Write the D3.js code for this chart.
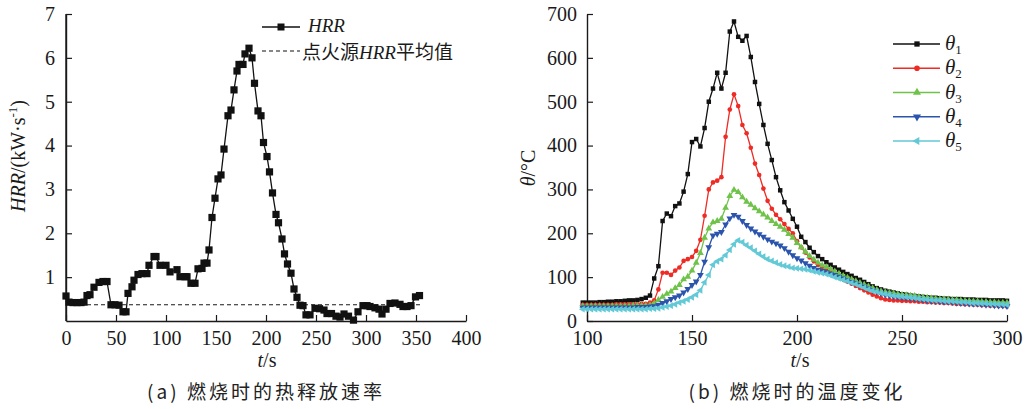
<!DOCTYPE html>
<html>
<head>
<meta charset="utf-8">
<script src="https://cdn.jsdelivr.net/npm/d3@7"></script>
<style>
  body { margin: 0; background: #fff; }
</style>
</head>
<body>
<div id="chart"></div>
<script>
// (a) heat release rate
const hrrT = [0, 3, 7, 11, 15, 18, 21, 24, 28, 33, 37, 41, 45, 49, 53, 57, 60, 62, 66, 68, 72, 76, 81, 83, 88, 90, 94, 100, 104, 111,
  114, 119, 121, 125, 129, 132, 136, 138, 141, 143, 146, 149, 152, 155, 158, 162, 165, 168, 171, 173, 177, 179, 183, 186, 188.5, 192, 195, 197.5, 201, 203.5,
  206.5, 210, 212.5, 216, 218.5, 221.5, 225, 228, 231, 234, 237, 240, 244, 249, 253.5, 258, 261, 265.5, 270, 274,
  278, 282.5, 287.5, 292, 297, 301, 304, 309, 313, 316, 320, 324, 329, 334, 337, 341, 345, 349.5, 353.5];
const hrrV = [0.57, 0.43, 0.42, 0.42, 0.42, 0.43, 0.58, 0.6, 0.77, 0.88, 0.9, 0.9, 0.37, 0.37, 0.36, 0.21, 0.21, 0.63, 0.78, 0.93, 1.06, 1.08, 1.08, 1.27, 1.47, 1.47, 1.27, 1.27, 1.12, 1.17,
  1.01, 1.01, 1.01, 0.86, 0.86, 1.19, 1.2, 1.32, 1.32, 1.62, 2.36, 2.8, 3.24, 3.33, 3.92, 4.68, 4.81, 5.27, 5.7, 5.85, 5.85, 6.09, 6.22, 6.0, 5.42, 4.79, 4.68, 4.07, 3.75, 3.4,
  2.92, 2.43, 2.24, 1.87, 1.53, 1.3, 1.09, 0.73, 0.54, 0.36, 0.35, 0.14, 0.14, 0.29, 0.28, 0.25, 0.17, 0.17, 0.11, 0.09,
  0.16, 0.11, 0.02, 0.21, 0.35, 0.35, 0.33, 0.3, 0.27, 0.16, 0.27, 0.4, 0.41, 0.38, 0.33, 0.33, 0.35, 0.55, 0.58];
const hrrMean = 0.37;
const hrrMeanSpan = [0, 355];

// (b) temperatures, sampled every 2 s from 98 s to 300 s
const tTemp = d3.range(98, 301, 2);
const theta1 = [42, 42, 42, 42, 43, 43, 44, 44, 45, 45,
  46, 47, 47, 48, 50, 53, 58, 97, 125, 228,
  245, 239, 262, 268, 295, 335, 408, 415, 398, 440,
  500, 530, 566, 530, 566, 660, 683, 648, 639, 650,
  602, 545, 495, 447, 404, 367, 328, 298, 271, 252,
  233, 215, 192, 180, 167, 157, 148, 141, 134, 128,
  122, 117, 112, 107, 103, 98, 94, 89, 84, 79,
  75, 72, 69, 67, 65, 63, 61, 60, 58, 57,
  56, 55, 54, 53, 53, 52, 51, 51, 50, 50,
  50, 49, 49, 49, 48, 48, 48, 47, 47, 47,
  47, 46];
const theta2 = [37, 37, 37, 37, 37, 37, 37, 37, 38, 38,
  38, 38, 38, 38, 39, 39, 42, 47, 72, 110,
  110, 105, 115, 122, 137, 141, 146, 160, 185, 240,
  300, 316, 320, 328, 420, 482, 517, 490, 447, 428,
  395, 359, 333, 302, 274, 256, 242, 232, 221, 210,
  200, 182, 168, 156, 145, 136, 128, 121, 115, 110,
  105, 100, 95, 90, 85, 80, 75, 70, 65, 60,
  56, 52, 49, 48, 47, 47, 46, 46, 45, 45,
  44, 44, 43, 43, 42, 42, 41, 41, 40, 39,
  39, 38, 38, 37, 37, 36, 36, 35, 35, 34,
  34, 33];
const theta3 = [34, 34, 34, 34, 34, 34, 34, 34, 34, 34,
  34, 34, 35, 35, 35, 35, 36, 40, 48, 55,
  62, 67, 75, 82, 95, 101, 115, 133, 155, 190,
  211, 225, 228, 233, 258, 285, 299, 294, 282, 272,
  265, 257, 250, 243, 236, 228, 221, 215, 208, 198,
  190, 178, 168, 158, 148, 140, 133, 127, 123, 118,
  113, 108, 103, 99, 95, 91, 87, 83, 79, 75,
  71, 68, 66, 64, 63, 61, 60, 59, 58, 57,
  55, 54, 53, 52, 51, 50, 50, 49, 48, 48,
  47, 46, 46, 45, 45, 44, 44, 43, 43, 42,
  42, 42];
const theta4 = [31, 31, 31, 31, 31, 31, 31, 31, 31, 31,
  31, 31, 31, 32, 32, 32, 33, 34, 37, 41,
  45, 50, 54, 58, 65, 73, 82, 90, 105, 135,
  168, 195, 199, 203, 220, 234, 242, 238, 228, 219,
  211, 204, 198, 192, 186, 181, 177, 172, 166, 158,
  150, 143, 138, 132, 126, 121, 117, 114, 111, 108,
  105, 101, 97, 93, 89, 86, 82, 78, 74, 70,
  67, 63, 60, 58, 56, 55, 54, 53, 52, 51,
  50, 48, 47, 46, 46, 45, 44, 44, 43, 42,
  41, 41, 40, 39, 39, 38, 37, 37, 36, 35,
  35, 34];
const theta5 = [27, 27, 27, 27, 27, 27, 27, 27, 27, 27,
  27, 27, 27, 27, 27, 27, 28, 28, 29, 31,
  33, 35, 38, 42, 45, 49, 54, 60, 70, 88,
  105, 128, 136, 141, 150, 162, 175, 184, 180, 173,
  167, 160, 153, 147, 141, 137, 133, 129, 126, 124,
  121, 120, 119, 118, 116, 113, 111, 109, 107, 104,
  100, 97, 94, 91, 87, 84, 80, 76, 72, 69,
  67, 64, 62, 60, 58, 57, 56, 55, 54, 53,
  51, 50, 49, 48, 47, 47, 46, 45, 45, 44,
  43, 43, 42, 41, 41, 40, 40, 39, 39, 38,
  38, 37];

const seriesNames = ["1", "2", "3", "4", "5"];
const seriesColors = ["#111111", "#ee2b24", "#6fc24a", "#2b54ac", "#62c9d6"];
const seriesValues = [theta1, theta2, theta3, theta4, theta5];

const hrrTicksX = [0, 50, 100, 150, 200, 250, 300, 350, 400];
const hrrTicksY = [1, 2, 3, 4, 5, 6, 7];
const tempTicksX = [100, 150, 200, 250, 300];
const tempTicksY = [0, 100, 200, 300, 400, 500, 600, 700];

const SERIF = "Liberation Serif";
const CJK = "Noto Sans CJK SC";
const ink = "#1a1a1a";
const width = 1028, height = 409;
const svg = d3.select("#chart").append("svg")
  .attr("width", width).attr("height", height)
  .attr("font-family", SERIF).attr("fill", ink);

function styleAxis(g) {
  g.attr("font-family", SERIF).attr("font-size", 20);
  g.select(".domain").attr("stroke", ink).attr("stroke-width", 1.4);
  g.selectAll(".tick line").attr("stroke", ink).attr("stroke-width", 1.2);
  g.selectAll(".tick text").attr("fill", ink).attr("font-family", SERIF);
}

// text helper (mixes italic / normal / CJK parts)
function label(parent, x, y, size, parts) {
  const t = parent.append("text").attr("x", x).attr("y", y)
    .attr("font-family", SERIF).attr("font-size", size).attr("fill", ink);
  parts.forEach(p => {
    const s = t.append("tspan").text(p.s);
    if (p.i) s.attr("font-style", "italic");
    if (p.cn) s.attr("font-family", CJK);
    if (p.dy) s.attr("dy", p.dy);
    if (p.fs) s.attr("font-size", p.fs);
  });
  return t;
}

// ---------- panel (a)
const xa = d3.scaleLinear().domain([0, 400]).range([66, 466]);
const ya = d3.scaleLinear().domain([0, 7]).range([321, 14]);
const fmt = d3.format("d");

svg.append("g").attr("transform", "translate(0,321)")
  .call(d3.axisBottom(xa).tickValues(hrrTicksX).tickFormat(fmt).tickSizeInner(-6).tickSizeOuter(0).tickPadding(10))
  .call(styleAxis);
svg.append("g").attr("transform", "translate(66,0)")
  .call(d3.axisLeft(ya).tickValues(hrrTicksY).tickFormat(fmt).tickSizeInner(-6).tickSizeOuter(0).tickPadding(11))
  .call(styleAxis);
svg.append("line")
  .attr("x1", 66).attr("x2", 66).attr("y1", ya(0)).attr("y2", ya(7))
  .attr("stroke", ink).attr("stroke-width", 1.4);

// mean line
svg.append("line")
  .attr("x1", xa(hrrMeanSpan[0])).attr("x2", xa(hrrMeanSpan[1]))
  .attr("y1", ya(hrrMean)).attr("y2", ya(hrrMean))
  .attr("stroke", ink).attr("stroke-width", 1.1).attr("stroke-dasharray", "4,3");

const hrrData = hrrT.map((t, i) => ({ t: t, v: hrrV[i] }));
svg.append("path").datum(hrrData)
  .attr("fill", "none").attr("stroke", "#111").attr("stroke-width", 1.3)
  .attr("d", d3.line().x(d => xa(d.t)).y(d => ya(d.v)));
svg.append("g").selectAll("rect").data(hrrData).join("rect")
  .attr("x", d => xa(d.t) - 3.6).attr("y", d => ya(d.v) - 3.6)
  .attr("width", 7.2).attr("height", 7.2).attr("fill", "#111");

// legend (a)
const lgA = svg.append("g");
lgA.append("line").attr("x1", 262).attr("x2", 300).attr("y1", 27).attr("y2", 27)
  .attr("stroke", "#111").attr("stroke-width", 1.3);
lgA.append("rect").attr("x", 277.5).attr("y", 23.5).attr("width", 7).attr("height", 7).attr("fill", "#111");
label(lgA, 308, 32, 19, [{ s: "HRR", i: true }]);
lgA.append("line").attr("x1", 262).attr("x2", 300).attr("y1", 51).attr("y2", 51)
  .attr("stroke", "#111").attr("stroke-width", 1.1).attr("stroke-dasharray", "4,3");
label(lgA, 302, 59, 19, [{ s: "点火源", cn: true }, { s: "HRR", i: true }, { s: "平均值", cn: true }]);

// axis titles (a)
label(svg, 0, 0, 20, [{ s: "HRR", i: true }, { s: "/(kW·s" }, { s: "-1", dy: -8, fs: 13 }, { s: ")", dy: 8 }])
  .attr("text-anchor", "middle").attr("transform", "translate(25,156) rotate(-90)");
label(svg, 267, 367, 20, [{ s: "t", i: true }, { s: "/s" }]).attr("text-anchor", "middle");

label(svg, 266, 399, 19, [{ s: "(a) 燃烧时的热释放速率", cn: true }])
  .attr("text-anchor", "middle").attr("letter-spacing", 3).attr("fill", "#222");

// ---------- panel (b)
const xb = d3.scaleLinear().domain([100, 300]).range([587, 1007]);
const yb = d3.scaleLinear().domain([0, 700]).range([321, 14]);

svg.append("g").attr("transform", "translate(0,321)")
  .call(d3.axisBottom(xb).tickValues(tempTicksX).tickFormat(fmt).tickSizeInner(-6).tickSizeOuter(0).tickPadding(10))
  .call(styleAxis);
svg.append("g").attr("transform", "translate(587,0)")
  .call(d3.axisLeft(yb).tickValues(tempTicksY).tickFormat(fmt).tickSizeInner(-6).tickSizeOuter(0).tickPadding(10))
  .call(styleAxis);

const symTypes = [d3.symbolSquare, d3.symbolCircle, d3.symbolTriangle, d3.symbolTriangle, d3.symbolTriangle];
const symRot = [0, 0, 0, 180, -90];
const symSize = [20, 17, 20, 20, 20];

const lineB = d3.line().x(d => xb(d.t)).y(d => yb(d.v));
seriesValues.forEach((vals, k) => {
  const data = tTemp.map((t, i) => ({ t: t, v: vals[i] }));
  const g = svg.append("g");
  g.append("path").datum(data)
    .attr("fill", "none").attr("stroke", seriesColors[k]).attr("stroke-width", 1.3)
    .attr("d", lineB);
  g.selectAll("path.m").data(data).join("path").attr("class", "m")
    .attr("transform", d => `translate(${xb(d.t)},${yb(d.v)}) rotate(${symRot[k]})`)
    .attr("d", d3.symbol().type(symTypes[k]).size(symSize[k]))
    .attr("fill", seriesColors[k]);
});

// legend (b)
const legY = d3.scaleLinear().domain([0, 4]).range([44, 141]);
seriesNames.forEach((n, k) => {
  const y = legY(k);
  svg.append("line").attr("x1", 893).attr("x2", 940).attr("y1", y).attr("y2", y)
    .attr("stroke", seriesColors[k]).attr("stroke-width", 1.3);
  svg.append("path")
    .attr("transform", `translate(917,${y}) rotate(${symRot[k]})`)
    .attr("d", d3.symbol().type(symTypes[k]).size(symSize[k] + 8))
    .attr("fill", seriesColors[k]);
  label(svg, 945, y + 6, 21, [{ s: "θ", i: true }, { s: n, dy: 4, fs: 13 }]);
});

label(svg, 0, 0, 20, [{ s: "θ", i: true }, { s: "/°C" }])
  .attr("text-anchor", "middle").attr("transform", "translate(535,168) rotate(-90)");
label(svg, 800, 367, 20, [{ s: "t", i: true }, { s: "/s" }]).attr("text-anchor", "middle");

label(svg, 797, 399, 19, [{ s: "(b) 燃烧时的温度变化", cn: true }])
  .attr("text-anchor", "middle").attr("letter-spacing", 3).attr("fill", "#222");
</script>
</body>
</html>
